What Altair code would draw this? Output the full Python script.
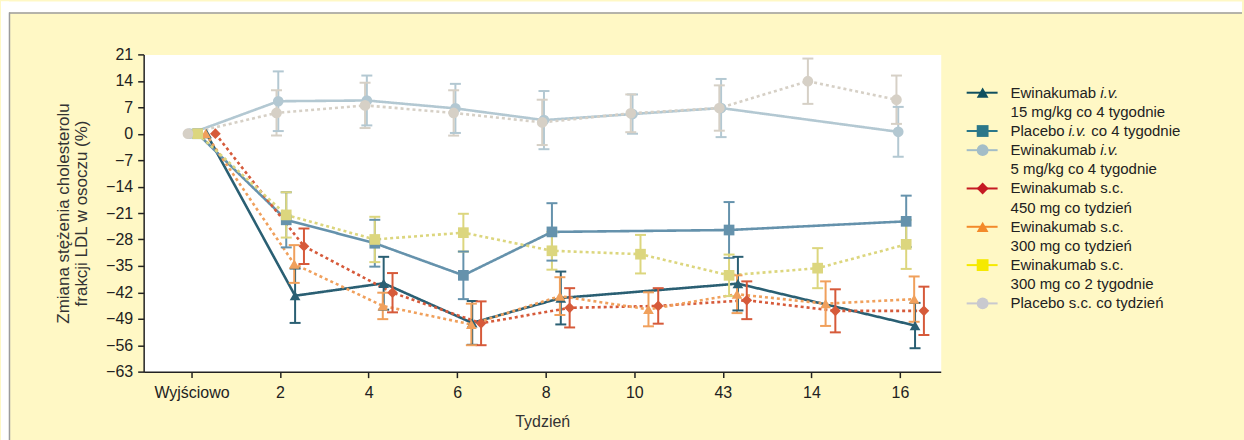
import altair as alt
import pandas as pd

FONT = "Liberation Sans"

# ---------------- data ----------------
week_labels = ["Wyjściowo", "2", "4", "6", "8", "10", "43", "14", "16"]
y_ticks = [-63, -56, -49, -42, -35, -28, -21, -14, -7, 0, 7, 14, 21]

series = [
    "Ewinakumab i.v. 15 mg/kg co 4 tygodnie",
    "Placebo i.v. co 4 tygodnie",
    "Ewinakumab i.v. 5 mg/kg co 4 tygodnie",
    "Ewinakumab s.c. 450 mg co tydzień",
    "Ewinakumab s.c. 300 mg co tydzień",
    "Ewinakumab s.c. 300 mg co 2 tygodnie",
    "Placebo s.c. co tydzień",
]

# week index (position on the axis), mean change (%), half error bar
a_idx = [0, 1, 2, 3, 4, 6, 8]
a_val = [0, -42.9, -39.6, -50.1, -43.5, -39.7, -50.8]
a_err = [0, 7.2, 7.0, 5.8, 7.0, 7.1, 6.0]

b_idx = [0, 1, 2, 3, 4, 6, 8]
b_val = [0, -22.8, -29.0, -37.5, -26.0, -25.5, -23.2]
b_err = [0, 7.3, 6.2, 6.3, 7.6, 7.4, 6.8]

c_idx = [0, 1, 2, 3, 4, 5, 6, 8]
c_val = [0, 8.6, 8.8, 6.7, 3.6, 5.2, 6.8, 0.5]
c_err = [0, 7.9, 6.6, 6.5, 7.7, 5.2, 7.7, 6.6]

d_idx = [0, 1, 2, 3, 4, 5, 6, 7, 8]
d_val = [0, -29.8, -42.1, -50.2, -46.1, -45.6, -44.1, -46.9, -46.9]
d_err = [0, 4.7, 5.2, 5.8, 5.2, 4.7, 5.0, 5.7, 6.4]

e_idx = [0, 1, 2, 3, 4, 5, 6, 7, 8]
e_val = [0, -34.5, -45.6, -50.5, -43.0, -46.5, -42.5, -45.0, -43.8]
e_err = [0, 5.0, 3.5, 5.5, 5.0, 4.5, 5.0, 5.9, 6.0]

f_idx = [0, 1, 2, 3, 4, 5, 6, 7, 8]
f_val = [0, -21.5, -28.0, -26.2, -31.0, -31.9, -37.5, -35.6, -29.3]
f_err = [0, 6.0, 6.0, 5.0, 5.0, 5.1, 5.5, 5.3, 6.5]

g_idx = [0, 1, 2, 3, 4, 5, 6, 7, 8]
g_val = [0, 5.5, 7.5, 5.5, 3.0, 5.4, 6.8, 13.9, 9.0]
g_err = [0, 6.0, 6.0, 6.0, 6.0, 5.0, 6.0, 6.0, 6.4]

# ---------------- styles ----------------
dodge = [0.17, 0.07, -0.02, 0.27, 0.16, 0.07, -0.04]
plot_colors = ["#2a5f73", "#6592ac", "#b3c8d2", "#d65a3a", "#f0a05c", "#dcd67e", "#d6d0c6"]
legend_colors = ["#0f4f5f", "#2b7789", "#a3bdc7", "#c51a23", "#f38a2b", "#f5e900", "#c9c9cf"]
shapes = ["triangle-up", "square", "circle", "diamond", "triangle-up", "square", "circle"]
dashes = [[1, 0], [1, 0], [1, 0], [3, 3], [3, 3], [3, 3], [3, 3]]

all_data = [
    (a_idx, a_val, a_err), (b_idx, b_val, b_err), (c_idx, c_val, c_err),
    (d_idx, d_val, d_err), (e_idx, e_val, e_err), (f_idx, f_val, f_err),
    (g_idx, g_val, g_err),
]

rows = []
for s_i, (idx, vals, errs) in enumerate(all_data):
    for i, v, e in zip(idx, vals, errs):
        rows.append(dict(series=series[s_i], s=s_i, x=i + dodge[s_i], y=v,
                         lo=v - e, hi=v + e, err=e))
df = pd.DataFrame(rows)

label_expr = "[" + ",".join("'%s'" % l for l in week_labels) + "][round(datum.value)]"

x_scale = alt.Scale(domain=[-0.54, 8.46], nice=False, zero=False)
y_scale = alt.Scale(domain=[-63, 21], nice=False, zero=False)

x_enc = alt.X("x:Q", scale=x_scale,
              axis=alt.Axis(values=list(range(9)), tickCount=30, labelExpr=label_expr,
                            title="Tydzień", grid=False, labelPadding=7,
                            titlePadding=13, labelFlush=False, labelOverlap=False))
y_axis = alt.Axis(values=y_ticks, tickCount=30, grid=False,
                  title=["Zmiana stężenia cholesterolu", "frakcji LDL w osoczu (%)"],
                  labelPadding=5, titlePadding=15, titleLineHeight=18,
                  titleFontSize=17, labelOverlap=False, labelFlush=False)

color = alt.Color("series:N", scale=alt.Scale(domain=series, range=plot_colors), legend=None)
shape = alt.Shape("series:N", scale=alt.Scale(domain=series, range=shapes), legend=None)
dash = alt.StrokeDash("series:N", scale=alt.Scale(domain=series, range=dashes), legend=None)

base = alt.Chart(df)

lines = base.mark_line(strokeWidth=2.6).encode(
    x=x_enc, y=alt.Y("y:Q", scale=y_scale, axis=y_axis),
    color=color, strokeDash=dash, detail="series:N", order="x:Q")

ebase = base.transform_filter("datum.err > 0")
err_rule = ebase.mark_rule(strokeWidth=2).encode(
    x="x:Q", y="lo:Q", y2="hi:Q", color=color)
cap_lo = ebase.mark_tick(orient="horizontal", size=11, thickness=2, opacity=1).encode(
    x="x:Q", y="lo:Q", color=color)
cap_hi = ebase.mark_tick(orient="horizontal", size=11, thickness=2, opacity=1).encode(
    x="x:Q", y="hi:Q", color=color)
points = base.mark_point(filled=True, size=115, opacity=1).encode(
    x="x:Q", y="y:Q", color=color, shape=shape)

# decorative frame of the figure (white strip + grey border)
one = pd.DataFrame({"k": [0]})
frame_top = alt.Chart(one).mark_rect(color="white").encode(
    x=alt.value(-143), x2=alt.value(1101), y=alt.value(-53), y2=alt.value(-42))
frame_left = alt.Chart(one).mark_rect(color="white").encode(
    x=alt.value(-143), x2=alt.value(-135), y=alt.value(-53), y2=alt.value(387))
border_top = alt.Chart(one).mark_rule(color="#9c9c9c", strokeWidth=1.5).encode(
    x=alt.value(-135), x2=alt.value(1101), y=alt.value(-41.5))
border_left = alt.Chart(one).mark_rule(color="#9c9c9c", strokeWidth=1.5).encode(
    x=alt.value(-134.5), y=alt.value(-42), y2=alt.value(387))

main = alt.layer(frame_top, frame_left, border_top, border_left,
                 lines, err_rule, cap_lo, cap_hi, points).properties(
    width=799, height=318,
    view=alt.ViewBackground(fill="white", stroke="transparent"))

# ---------------- legend ----------------
legend_rows = [0, 2, 3, 5, 7, 9, 11]
text_a = ["Ewinakumab", "15 mg/kg co 4 tygodnie", "Placebo", "Ewinakumab",
          "5 mg/kg co 4 tygodnie", "Ewinakumab s.c.", "450 mg co tydzień",
          "Ewinakumab s.c.", "300 mg co tydzień", "Ewinakumab s.c.",
          "300 mg co 2 tygodnie", "Placebo s.c. co tydzień"]
text_b = ["i.v.", "", "i.v.", "i.v.", "", "", "", "", "", "", "", ""]
text_c = ["", "", "co 4 tygodnie", "", "", "", "", "", "", "", "", ""]

sym_df = pd.DataFrame({"series": series, "row": legend_rows})
txt_df = pd.DataFrame({"row": list(range(12)), "a": text_a, "b": text_b, "c": text_c})

leg_y = alt.Y("row:Q", scale=alt.Scale(domain=[-2, 14.5625], reverse=True, nice=False, zero=False), axis=None)
leg_color = alt.Color("series:N", scale=alt.Scale(domain=series, range=legend_colors), legend=None)

leg_line = alt.Chart(sym_df).mark_rule(strokeWidth=2).encode(
    x=alt.value(6), x2=alt.value(37), y=leg_y, color=leg_color)
leg_pt = alt.Chart(sym_df).mark_point(filled=True, size=140, opacity=1).encode(
    x=alt.value(22), y=leg_y, color=leg_color, shape=shape)

tbase = alt.Chart(txt_df)
tstyle = dict(align="left", baseline="middle", fontSize=15, font=FONT, color="#222222")
t_a = tbase.mark_text(**tstyle).encode(x=alt.value(50), y=leg_y, text="a:N")
t_b1 = tbase.transform_filter("datum.b != '' && datum.c == ''").mark_text(
    fontStyle="italic", **tstyle).encode(x=alt.value(140), y=leg_y, text="b:N")
t_b2 = tbase.transform_filter("datum.c != ''").mark_text(
    fontStyle="italic", **tstyle).encode(x=alt.value(108), y=leg_y, text="b:N")
t_c = tbase.transform_filter("datum.c != ''").mark_text(**tstyle).encode(
    x=alt.value(131), y=leg_y, text="c:N")

legend = alt.layer(leg_line, leg_pt, t_a, t_b1, t_b2, t_c).properties(
    width=270, height=318)

chart = alt.hconcat(main, legend, spacing=20, bounds="flush").resolve_scale(
    color="independent", shape="independent", y="independent", x="independent"
).properties(padding=0).configure(
    background="#FFF8C5", font=FONT
).configure_view(stroke="transparent").configure_axis(
    domainColor="#222222", domainWidth=1.5, tickColor="#222222", tickSize=6,
    tickWidth=1.5, labelFont=FONT, labelFontSize=16, labelColor="#222222",
    titleFont=FONT, titleFontSize=16, titleFontWeight="normal", titleColor="#333333",
    labelOverlap=False
)

chart.save("out.html", embed_options={"renderer": "svg", "actions": False})
